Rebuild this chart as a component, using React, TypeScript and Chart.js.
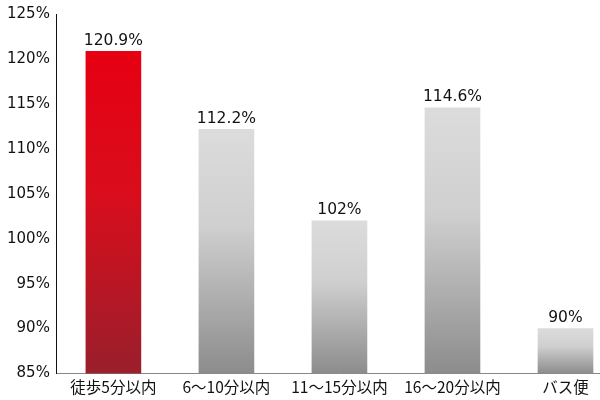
import React, { useEffect, useRef } from "react";
import { Chart, registerables } from "chart.js";

Chart.register(...registerables);

const categories = ["徒歩5分以内", "6〜10分以内", "11〜15分以内", "16〜20分以内", "バス便"];
const values = [120.9, 112.2, 102, 114.6, 90];
const valueLabels = ["120.9%", "112.2%", "102%", "114.6%", "90%"];
const yTicks = [85, 90, 95, 100, 105, 110, 115, 120, 125];

const FONT = "'DejaVu Sans', 'Noto Sans CJK JP', sans-serif";
const CJK = "'Noto Sans CJK JP', 'DejaVu Sans', sans-serif";

export default function App() {
  const ref = useRef<HTMLCanvasElement | null>(null);
  useEffect(() => {
    document.body.style.margin = "0";
    const canvas = ref.current!;
    const labelPlugin = {
      id: "valueLabels",
      afterDatasetsDraw(chart: any) {
        const ctx = chart.ctx;
        const meta = chart.getDatasetMeta(0);
        ctx.save();
        ctx.fillStyle = "#111";
        ctx.font = `15.5px ${FONT}`;
        ctx.textAlign = "center";
        ctx.textBaseline = "bottom";
        meta.data.forEach((bar: any, i: number) => {
          ctx.fillText(valueLabels[i], bar.x, bar.y - 3);
        });
        ctx.restore();
      },
    };
    const chart = new Chart(canvas, {
      type: "bar",
      data: {
        labels: categories,
        datasets: [
          {
            data: values,
            barThickness: 55,
            backgroundColor: (c: any) => {
              const ch = c.chart;
              const area = ch.chartArea;
              if (!area || !ch.scales.y) return c.dataIndex === 0 ? "#e60012" : "#cccccc";
              const top = ch.scales.y.getPixelForValue(values[c.dataIndex]);
              const g = ch.ctx.createLinearGradient(0, top, 0, area.bottom);
              if (c.dataIndex === 0) {
                g.addColorStop(0, "#e60012");
                g.addColorStop(0.45, "#d80d1c");
                g.addColorStop(1, "#9a1f2c");
              } else {
                g.addColorStop(0, "#dcdcdc");
                g.addColorStop(0.4, "#cfcfcf");
                g.addColorStop(1, "#8c8c8c");
              }
              return g;
            },
          },
        ],
      },
      options: {
        animation: false,
        responsive: false,
        layout: { padding: { top: 0, right: 0, left: 0, bottom: 0 } },
        plugins: { legend: { display: false }, tooltip: { enabled: false } },
        scales: {
          x: {
            grid: { display: false, drawTicks: false },
            border: { display: true, color: "#888", width: 1 },
            ticks: { color: "#111", font: { family: CJK, size: 15.5 }, padding: 4 },
          },
          y: {
            min: 85,
            max: 125,
            afterBuildTicks: (s: any) => {
              s.ticks = yTicks.map((v) => ({ value: v }));
            },
            grid: { display: false, drawTicks: false },
            border: { display: true, color: "#111", width: 1 },
            ticks: {
              color: "#111",
              font: { family: FONT, size: 15, lineHeight: 1.0 },
              padding: 7,
              callback: (v: any) => `${v}%`,
            },
          },
        },
      },
      plugins: [labelPlugin],
    });
    return () => chart.destroy();
  }, []);
  return (
    <div style={{ width: 600, height: 400, overflow: "hidden" }}>
      <canvas ref={ref} width={622} height={400} style={{ display: "block" }} />
    </div>
  );
}
